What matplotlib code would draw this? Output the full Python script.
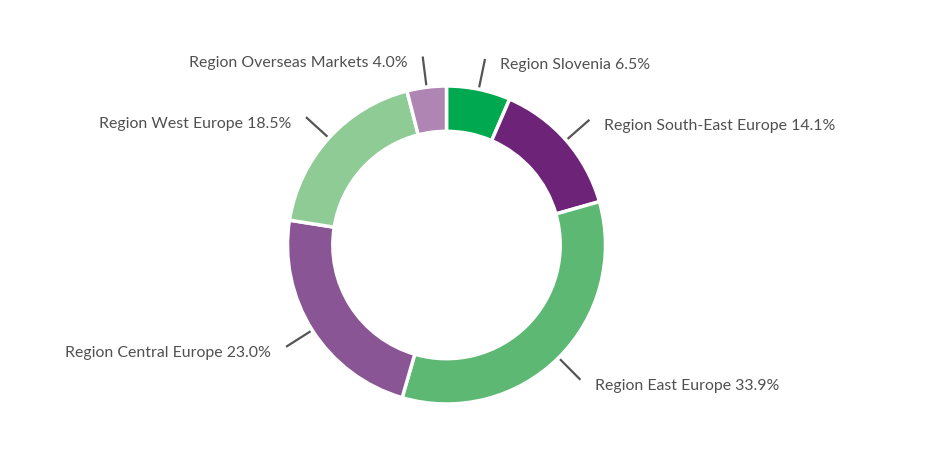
import numpy as np
import matplotlib
matplotlib.use("Agg")
import matplotlib.pyplot as plt

# data
regions = ["Region Slovenia", "Region South-East Europe", "Region East Europe",
           "Region Central Europe", "Region West Europe", "Region Overseas Markets"]
shares = [6.5, 14.1, 33.9, 23.0, 18.5, 4.0]
colors = ["#00a94f", "#6c2378", "#5cb873", "#8a5594", "#8ecb95", "#ae85b3"]

W, H = 939, 467
fig = plt.figure(figsize=(W / 100, H / 100), dpi=100)
ax = fig.add_axes([0, 0, 1, 1])

cx, cy, r = 446.5, H - 245, 159
wedges, _ = ax.pie(shares, colors=colors, startangle=90, counterclock=False,
                   center=(cx, cy), radius=r, frame=True,
                   wedgeprops=dict(width=r * 0.285, edgecolor="white", linewidth=2.5))
ax.set_xlim(0, W)
ax.set_ylim(0, H)
ax.axis("off")

# leader lines + labels
for w, name, val in zip(wedges, regions, shares):
    ang = np.deg2rad((w.theta1 + w.theta2) / 2)
    c, s = np.cos(ang), np.sin(ang)
    x0, y0 = cx + (r + 2) * c, cy + (r + 2) * s
    x1, y1 = cx + (r + 31) * c, cy + (r + 31) * s
    ax.plot([x0, x1], [y0, y1], color="#555555", lw=1.6, solid_capstyle="butt")
    right = c >= 0
    tx = x1 + (15 if right else -15)
    ax.text(tx, y1 - 6.5, f"{name} {val:.1f}%", ha="left" if right else "right",
            va="center", fontsize=11.4, family="Lato", color="#505050")

fig.savefig("out.png", dpi=100)
